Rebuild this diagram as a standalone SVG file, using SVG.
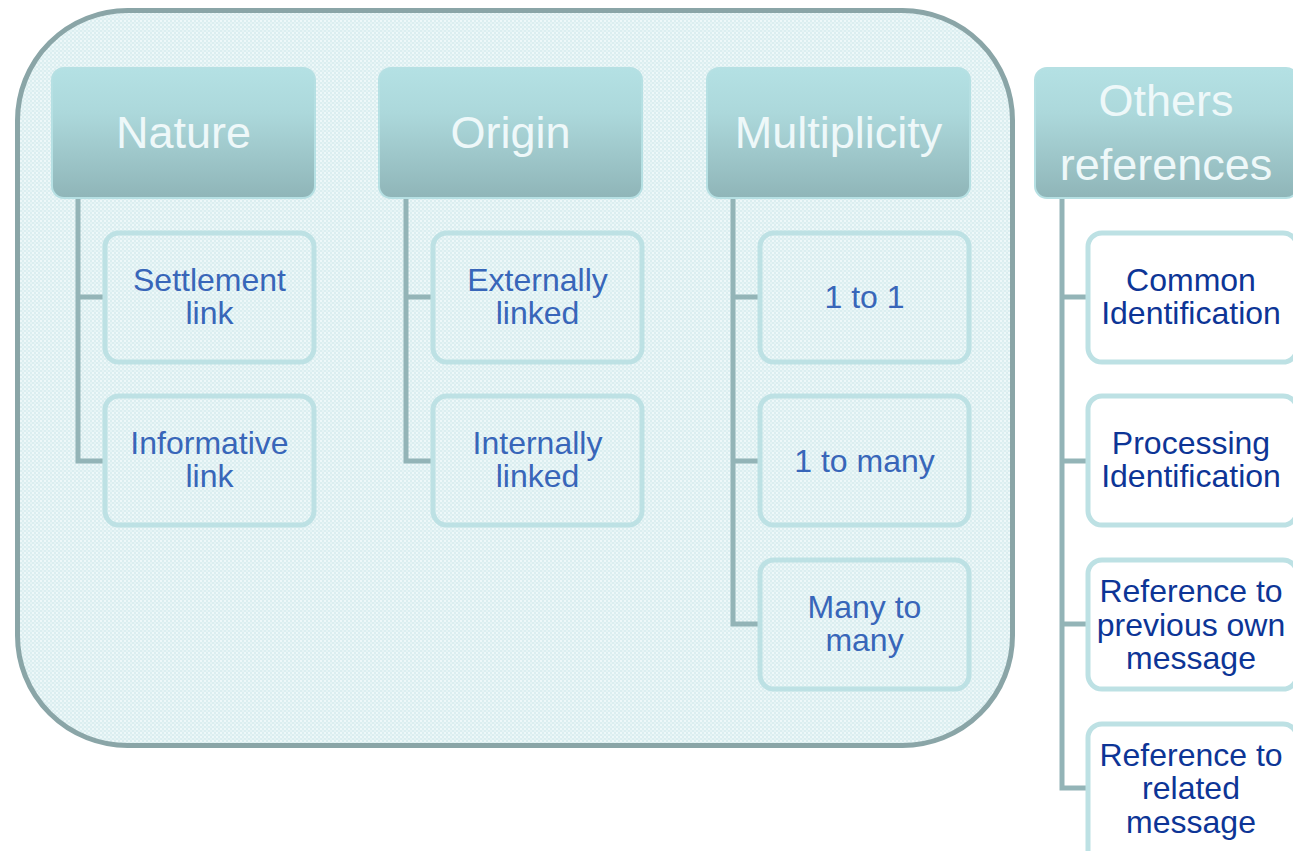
<svg xmlns="http://www.w3.org/2000/svg" width="1293" height="851" viewBox="0 0 1293 851">
  <defs>
    <pattern id="dots" width="4" height="4" patternUnits="userSpaceOnUse">
      <rect width="4" height="4" fill="#dbeef0"/>
      <rect x="0" y="0" width="2" height="2" fill="#eef8f9"/>
      <rect x="2" y="2" width="2" height="2" fill="#e6f4f5"/>
    </pattern>
    <linearGradient id="hdr" x1="0" y1="0" x2="0" y2="1">
      <stop offset="0" stop-color="#b4e1e4"/>
      <stop offset="0.35" stop-color="#acd8db"/>
      <stop offset="1" stop-color="#8fb5b8"/>
    </linearGradient>
    <style>
      .hdr { fill: url(#hdr); stroke: #b6e0e3; stroke-width: 2; }
      .hdrtxt { font-family: "Liberation Sans", Arial, sans-serif; font-size: 45px; fill: #eef8f9; text-anchor: middle; }
      .child { fill: none; stroke: #bde1e4; stroke-width: 5; }
      .childw { fill: #ffffff; stroke: #bde1e4; stroke-width: 5; }
      .ctxt { font-family: "Liberation Sans", Arial, sans-serif; font-size: 32px; fill: #3866b9; text-anchor: middle; }
      .wtxt { font-family: "Liberation Sans", Arial, sans-serif; font-size: 32px; fill: #0d3596; text-anchor: middle; }
      .conn { fill: none; stroke: #93b4b7; stroke-width: 5; }
    </style>
  </defs>
  <rect width="1293" height="851" fill="#ffffff"/>

  <g id="container">
    <rect x="17.5" y="10.5" width="995" height="735" rx="110" ry="110" fill="url(#dots)" stroke="#8aa5a7" stroke-width="5"/>
  </g>

  <g id="connectors">
    <polyline class="conn" points="78,198 78,461 103,461"/>
    <line class="conn" x1="78" y1="297" x2="103" y2="297"/>
    <polyline class="conn" points="406,198 406,461 431,461"/>
    <line class="conn" x1="406" y1="297" x2="431" y2="297"/>
    <polyline class="conn" points="733,198 733,624 758,624"/>
    <line class="conn" x1="733" y1="297" x2="758" y2="297"/>
    <line class="conn" x1="733" y1="461" x2="758" y2="461"/>
    <polyline class="conn" points="1062,198 1062,788 1086,788" stroke="#96b2b5" stroke-width="6"/>
    <line class="conn" x1="1062" y1="297" x2="1086" y2="297" stroke="#96b2b5" stroke-width="6"/>
    <line class="conn" x1="1062" y1="461" x2="1086" y2="461" stroke="#96b2b5" stroke-width="6"/>
    <line class="conn" x1="1062" y1="624" x2="1086" y2="624" stroke="#96b2b5" stroke-width="6"/>
  </g>

  <g id="nature">
    <rect class="hdr" x="52" y="68" width="263" height="130" rx="12"/>
    <text class="hdrtxt" x="183.5" y="148">Nature</text>
  </g>
  <g id="origin">
    <rect class="hdr" x="379" y="68" width="263" height="130" rx="12"/>
    <text class="hdrtxt" x="510.5" y="148">Origin</text>
  </g>
  <g id="multiplicity">
    <rect class="hdr" x="707" y="68" width="263" height="130" rx="12"/>
    <text class="hdrtxt" x="838.5" y="148">Multiplicity</text>
  </g>
  <g id="others">
    <rect class="hdr" x="1035" y="68" width="263" height="130" rx="12"/>
    <text class="hdrtxt" x="1166" y="116">Others</text>
    <text class="hdrtxt" x="1166" y="180">references</text>
  </g>

  <g id="settlement">
    <rect class="child" x="105" y="233" width="209" height="129" rx="14"/>
    <text class="ctxt" x="209.5" y="291">Settlement</text>
    <text class="ctxt" x="209.5" y="324">link</text>
  </g>
  <g id="informative">
    <rect class="child" x="105" y="396" width="209" height="129" rx="14"/>
    <text class="ctxt" x="209.5" y="454">Informative</text>
    <text class="ctxt" x="209.5" y="487">link</text>
  </g>
  <g id="externally">
    <rect class="child" x="433" y="233" width="209" height="129" rx="14"/>
    <text class="ctxt" x="537.5" y="291">Externally</text>
    <text class="ctxt" x="537.5" y="324">linked</text>
  </g>
  <g id="internally">
    <rect class="child" x="433" y="396" width="209" height="129" rx="14"/>
    <text class="ctxt" x="537.5" y="454">Internally</text>
    <text class="ctxt" x="537.5" y="487">linked</text>
  </g>
  <g id="one-to-one">
    <rect class="child" x="760" y="233" width="209" height="129" rx="14"/>
    <text class="ctxt" x="864.5" y="308">1 to 1</text>
  </g>
  <g id="one-to-many">
    <rect class="child" x="760" y="396" width="209" height="129" rx="14"/>
    <text class="ctxt" x="864.5" y="472">1 to many</text>
  </g>
  <g id="many-to-many">
    <rect class="child" x="760" y="560" width="209" height="129" rx="14"/>
    <text class="ctxt" x="864.5" y="618">Many to</text>
    <text class="ctxt" x="864.5" y="651">many</text>
  </g>

  <g id="common-id">
    <rect class="childw" x="1088" y="233" width="209" height="129" rx="14"/>
    <text class="wtxt" x="1191" y="291">Common</text>
    <text class="wtxt" x="1191" y="324">Identification</text>
  </g>
  <g id="processing-id">
    <rect class="childw" x="1088" y="396" width="209" height="129" rx="14"/>
    <text class="wtxt" x="1191" y="454">Processing</text>
    <text class="wtxt" x="1191" y="487">Identification</text>
  </g>
  <g id="ref-previous">
    <rect class="childw" x="1088" y="560" width="209" height="129" rx="14"/>
    <text class="wtxt" x="1191" y="602">Reference to</text>
    <text class="wtxt" x="1191" y="636">previous own</text>
    <text class="wtxt" x="1191" y="669">message</text>
  </g>
  <g id="ref-related">
    <rect class="childw" x="1088" y="724" width="209" height="140" rx="14"/>
    <text class="wtxt" x="1191" y="766">Reference to</text>
    <text class="wtxt" x="1191" y="799">related</text>
    <text class="wtxt" x="1191" y="833">message</text>
  </g>
</svg>
